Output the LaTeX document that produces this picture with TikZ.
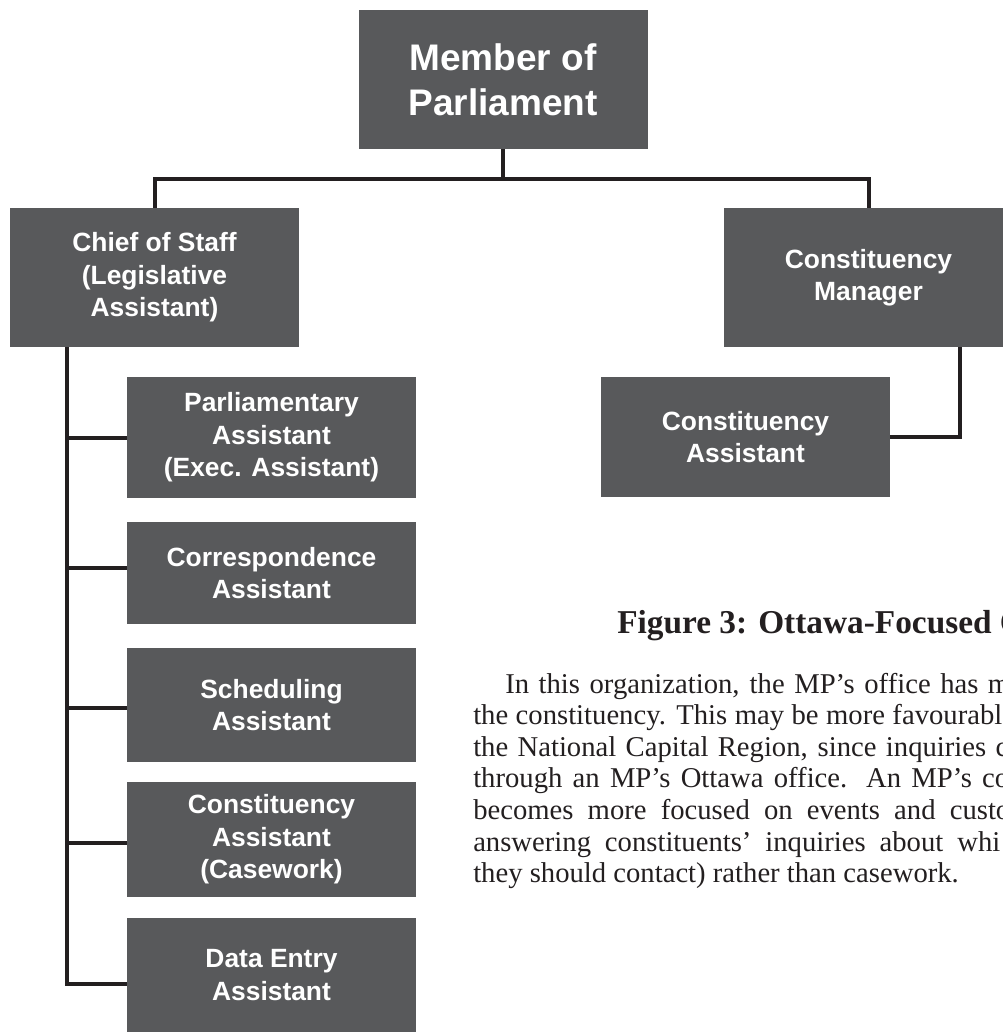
\documentclass[tikz,border=0pt]{standalone}
\usepackage{fontspec}
\setsansfont{Liberation Sans}
\newfontfamily\bodyfont{Liberation Serif}
\usetikzlibrary{calc}
\definecolor{boxgray}{HTML}{58595B}
\definecolor{wireblack}{HTML}{231F20}
\definecolor{inkgray}{HTML}{231F20}
\tikzset{
  orgbox/.style={fill=boxgray, text=white, align=center, inner sep=0pt,
    minimum width=216.75pt,
    font=\sffamily\bfseries\fontsize{19.8}{24.4}\selectfont},
  mpbox/.style={orgbox, font=\sffamily\bfseries\fontsize{27.75}{33.75}\selectfont},
  wire/.style={draw=wireblack, line width=3pt},
  bodyline/.style={anchor=base west, inner sep=0pt, text=inkgray,
    font=\bodyfont\fontsize{21.5}{23.7}\selectfont},
  titleline/.style={anchor=base west, inner sep=0pt, text=inkgray,
    font=\bodyfont\bfseries\fontsize{25}{29}\selectfont}
}
\begin{document}
\begin{tikzpicture}[x=0.75pt,y=-0.75pt]
\useasboundingbox (0,0) rectangle (1003,1032);
\clip (0,0) rectangle (1003,1032);

% boxes of the chart
\node[mpbox, minimum height=104.25pt] (mp) at (503,79.5) {Member of\\Parliament};
\node[orgbox, minimum height=104.25pt] (chief) at (154.5,277.5) {Chief of Staff\\(Legislative\\Assistant)};
\node[orgbox, minimum height=104.25pt] (cm) at (868.5,277.5) {Constituency\\Manager};
\node[orgbox, minimum height=90.75pt] (parl) at (271.5,437.5) {Parliamentary\\Assistant\\(Exec. Assistant)};
\node[orgbox, minimum height=76.5pt] (corr) at (271.5,573) {Correspondence\\Assistant};
\node[orgbox, minimum height=85.5pt] (sched) at (271.5,705) {Scheduling\\Assistant};
\node[orgbox, minimum height=86.25pt] (case) at (271.5,839.5) {Constituency\\Assistant\\(Casework)};
\node[orgbox, minimum height=85.5pt] (data) at (271.5,975) {Data Entry\\Assistant};
\node[orgbox, minimum height=90pt] (ca) at (745.5,437) {Constituency\\Assistant};

% connectors
\coordinate (bar) at (503,179);
\draw[wire] (mp.south) -- (bar);
\draw[wire] (chief.north) |- (bar) -| (cm.north);
\coordinate (spinetop) at ($(chief.south west)+(57,0)$);
\draw[wire] (spinetop) |- ($(data.west)+(0,9)$);
\draw[wire] (parl.west) -- (parl.west -| spinetop);
\draw[wire] ($(corr.west)+(0,-5)$) -- ($(corr.west -| spinetop)+(0,-5)$);
\draw[wire] ($(sched.west)+(0,3)$) -- ($(sched.west -| spinetop)+(0,3)$);
\draw[wire] ($(case.west)+(0,3.5)$) -- ($(case.west -| spinetop)+(0,3.5)$);
\coordinate (cmleg) at ($(cm.south west)+(236,0)$);
\draw[wire] (cmleg) |- (ca.east);

% caption and paragraph
\node[titleline] (title) at (617,633) {Figure 3: Ottawa-Focused O};
\node[bodyline] (l1) at (505,693) {\makebox[378.75pt][s]{In this organization, the MP’s office has m}};
\node[bodyline] (l2) at (473,724.6) {\makebox[396.75pt][s]{the constituency. This may be more favourabl}};
\node[bodyline] (l3) at (473,756.2) {\makebox[401.25pt][s]{the National Capital Region, since inquiries c}};
\node[bodyline] (l4) at (473,787.8) {\makebox[402pt][s]{through an MP’s Ottawa office. An MP’s co}};
\node[bodyline] (l5) at (473,819.4) {\makebox[402.75pt][s]{becomes more focused on events and custo}};
\node[bodyline] (l6) at (473,851) {\makebox[395.25pt][s]{answering constituents’ inquiries about whi}};
\node[bodyline] (l7) at (473,882.6) {they should contact) rather than casework.};
\end{tikzpicture}
\end{document}
